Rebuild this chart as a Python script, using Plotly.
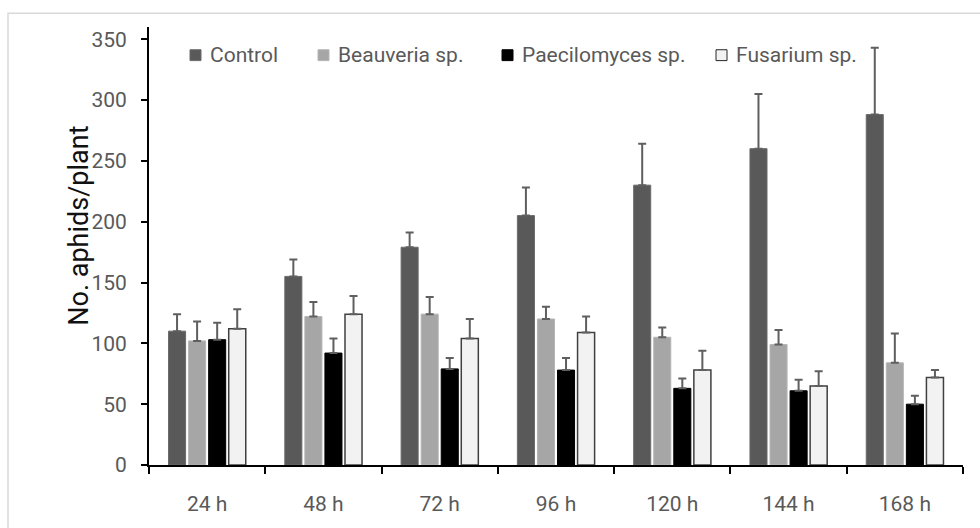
import plotly.graph_objects as go

categories = ["24 h", "48 h", "72 h", "96 h", "120 h", "144 h", "168 h"]
series_names = ["Control", "Beauveria sp.", "Paecilomyces sp.", "Fusarium sp."]
control = [110, 155, 179, 205, 230, 260, 288]
control_err = [14, 14, 12, 23, 34, 45, 55]
beauveria = [102, 122, 124, 120, 105, 99, 84]
beauveria_err = [16, 12, 14, 10, 8, 12, 24]
paecilomyces = [103, 92, 79, 78, 63, 61, 50]
paecilomyces_err = [14, 12, 9, 10, 8, 9, 7]
fusarium = [112, 124, 104, 109, 78, 65, 72]
fusarium_err = [16, 15, 16, 13, 16, 12, 6]
y_ticks = [0, 50, 100, 150, 200, 250, 300, 350]

values = [control, beauveria, paecilomyces, fusarium]
errors = [control_err, beauveria_err, paecilomyces_err, fusarium_err]
fills = ["#595959", "#a6a6a6", "#000000", "#f2f2f2"]
lines = ["#6b6b6b", "#b5b5b5", "#000000", "#404040"]
line_w = [1, 1, 1, 1.5]

FONT = "Roboto"
W, H = 980, 528
L, R, T, B = 149, 963, 27, 470

def px(x):
    return (x - L) / (R - L)

def py(y):
    return (B - y) / (B - T)

fig = go.Figure()
for name, v, e, f, lc, lw in zip(series_names, values, errors, fills, lines, line_w):
    fig.add_trace(go.Bar(
        x=categories, y=v, name=name,
        marker=dict(color=f, line=dict(color=lc, width=lw)),
        error_y=dict(type="data", symmetric=False, array=e,
                     arrayminus=[0] * len(e), color="#5f5f5f",
                     thickness=2, width=4),
        showlegend=False,
    ))

shapes = [dict(type="rect", xref="paper", yref="paper",
               x0=px(8), x1=px(1000), y0=py(13), y1=py(560),
               line=dict(color="#d9d9d9", width=1.5), fillcolor="rgba(0,0,0,0)",
               layer="below")]
annotations = []
sq_x = [190, 318, 502, 716]
txt_x = [208, 336, 520, 734]
for name, f, lc, sx, tx in zip(series_names, fills, lines, sq_x, txt_x):
    shapes.append(dict(type="rect", xref="paper", yref="paper",
                       x0=px(sx), x1=px(sx + 11), y0=py(61), y1=py(50),
                       fillcolor=f, line=dict(color=lc if f != "#f2f2f2" else "#262626", width=1)))
    annotations.append(dict(text=name, xref="paper", yref="paper",
                            x=px(tx), y=py(55.5), xanchor="left", yanchor="middle",
                            showarrow=False,
                            font=dict(family=FONT, size=21, color="#595959")))

annotations.append(dict(text="No. aphids/plant", xref="paper", yref="paper",
                        x=px(79), y=py(228), xanchor="center", yanchor="middle",
                        textangle=-90, showarrow=False,
                        font=dict(family=FONT, size=27, color="#111111")))

fig.update_layout(
    width=W, height=H,
    margin=dict(l=L, r=W - R, t=T, b=H - B, pad=0),
    paper_bgcolor="white", plot_bgcolor="white",
    barmode="group", bargap=0.31, bargroupgap=0.15,
    shapes=shapes, annotations=annotations,
    font=dict(family=FONT),
)
fig.update_xaxes(
    type="category", showline=True, linecolor="black", linewidth=2,
    ticks="outside", tickson="boundaries", ticklen=7, tickwidth=2, tickcolor="black",
    tickfont=dict(family=FONT, size=21, color="#595959"),
    ticklabelstandoff=19, showgrid=False, zeroline=False,
)
fig.update_yaxes(
    range=[0, 360], tickvals=y_ticks, showline=True, linecolor="black", linewidth=2,
    ticks="outside", ticklen=6, tickwidth=2, tickcolor="black",
    tickfont=dict(family=FONT, size=21, color="#595959"),
    ticklabelstandoff=10, showgrid=False, zeroline=False,
)

fig.write_html("out.html", config={"displayModeBar": False},
               post_script="document.body.style.margin='0';document.body.style.overflow='hidden';")
